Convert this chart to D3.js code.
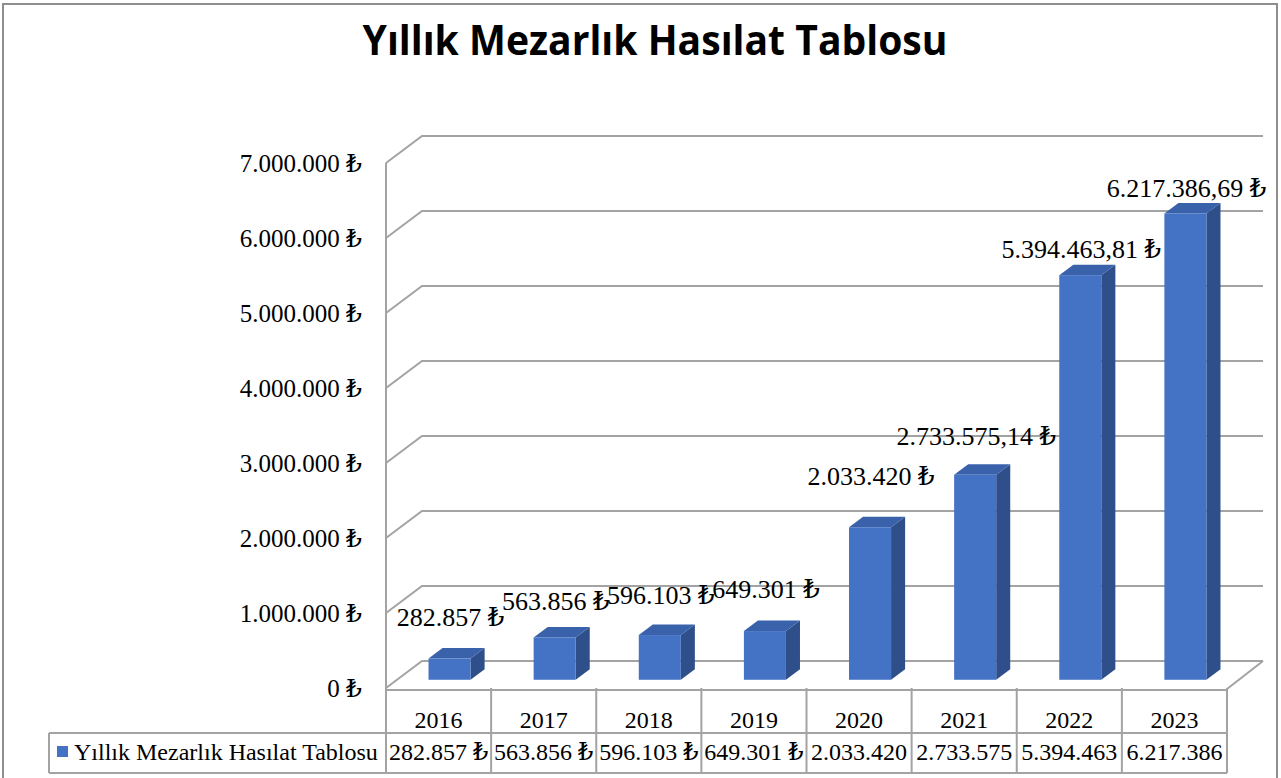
<!DOCTYPE html>
<html>
<head>
<meta charset="utf-8">
<script src="https://cdn.jsdelivr.net/npm/d3@7"></script>
<style>
  html, body { margin: 0; padding: 0; background: #fff; }
  svg { display: block; }
</style>
</head>
<body>
<svg id="chart" width="1281" height="778"></svg>
<script>
// Yearly cemetery revenue (TL)
const years = ["2016", "2017", "2018", "2019", "2020", "2021", "2022", "2023"];
const revenue = [282857, 563856, 596103, 649301, 2033420, 2733575.14, 5394463.81, 6217386.69];
const yTicks = [0, 1000000, 2000000, 3000000, 4000000, 5000000, 6000000, 7000000];
const seriesName = "Yıllık Mezarlık Hasılat Tablosu";
const titleText = "Yıllık Mezarlık Hasılat Tablosu";

const tr = d3.formatLocale({ decimal: ",", thousands: ".", grouping: [3], currency: ["", " ₺"] });
const fmtInt = tr.format(",.0f");
const fmtDec = tr.format(",.2f");
const money = v => (Number.isInteger(v) ? fmtInt(v) : fmtDec(v)) + " ₺";

const svg = d3.select("#chart");
const W = 1281, H = 778;
const serif = "'Liberation Serif', 'Times New Roman', 'DejaVu Serif', serif";
const gridColor = "#a3a3a3";
const blue = "#4472c4", blueTop = "#3a62ab", blueSide = "#2e4f8a";

// plot frame (front plane) and depth of the 3D box
const plot = { left: 386, right: 1227, top: 163, bottom: 688 };
const depth = { dx: 36, dy: 27 };

const x = d3.scaleBand().domain(years).range([plot.left, plot.right]).padding(0);
const y = d3.scaleLinear().domain([0, 7000000]).range([plot.bottom, plot.top]);
const proj = (px, py, d) => [px + d * depth.dx, py - d * depth.dy];

// outer chart border
svg.append("rect")
  .attr("x", 3).attr("y", 4).attr("width", W - 7).attr("height", H + 4)
  .attr("fill", "none").attr("stroke", "#8e8e8e").attr("stroke-width", 2);

// title
svg.append("text")
  .attr("x", 655).attr("y", 55)
  .attr("text-anchor", "middle")
  .attr("font-family", "'Liberation Sans Narrow', 'Open Sans', 'Noto Sans', sans-serif")
  .attr("font-weight", "bold")
  .attr("font-size", 42)
  .attr("textLength", 585)
  .attr("lengthAdjust", "spacingAndGlyphs")
  .attr("fill", "#000")
  .text(titleText);

// gridlines: left wall diagonal + back wall horizontal
const grid = svg.append("g").attr("fill", "none").attr("stroke", gridColor).attr("stroke-width", 2);
yTicks.forEach(t => {
  const yf = y(t);
  const [bx, by] = proj(plot.left, yf, 1);
  const [ex] = proj(plot.right, yf, 1);
  grid.append("path").attr("d", `M${plot.left},${yf}L${bx},${by}L${ex},${by}`);
});
// front vertical edge of the left wall
grid.append("line")
  .attr("x1", plot.left).attr("x2", plot.left)
  .attr("y1", y(7000000)).attr("y2", plot.bottom);
// floor right edge
{
  const [rx, ry] = proj(plot.right, plot.bottom, 1);
  grid.append("line").attr("x1", plot.right).attr("y1", plot.bottom + 1).attr("x2", rx).attr("y2", ry);
}

// y axis labels
svg.append("g").selectAll("text").data(yTicks).join("text")
  .attr("x", 362).attr("y", d => y(d))
  .attr("dy", "0.35em")
  .attr("text-anchor", "end")
  .attr("font-family", serif).attr("font-size", 25)
  .attr("fill", "#000")
  .text(d => fmtInt(d) + " ₺");

// 3D bars
const barFrac = 0.4;
const dFront = 0.305, dBar = 0.39;
const bars = svg.append("g");
years.forEach((yr, i) => {
  const v = revenue[i];
  const bw = x.bandwidth() * barFrac;
  const cx = x(yr) + x.bandwidth() / 2;
  const [x0, yb] = proj(cx - bw / 2, y(0), dFront);
  const [, yt] = proj(cx, y(v), dFront);
  const x1 = x0 + bw;
  const ox = dBar * depth.dx, oy = dBar * depth.dy;
  bars.append("path").attr("fill", blueSide)
    .attr("d", `M${x1},${yt}L${x1 + ox},${yt - oy}L${x1 + ox},${yb - oy}L${x1},${yb}Z`);
  bars.append("path").attr("fill", blueTop)
    .attr("d", `M${x0},${yt}L${x0 + ox},${yt - oy}L${x1 + ox},${yt - oy}L${x1},${yt}Z`);
  bars.append("rect").attr("fill", blue)
    .attr("x", x0).attr("y", yt).attr("width", bw).attr("height", yb - yt);
});

// value labels above the bars (individually lifted where they were dragged)
const labelLift = [33, 27, 31, 33, 42, 30, 17, 16];
svg.append("g").selectAll("text").data(years).join("text")
  .attr("x", (d, i) => proj(x(d) + x.bandwidth() / 2, 0, dFront)[0] + 1)
  .attr("y", (d, i) => proj(0, y(revenue[i]), dFront)[1] - labelLift[i])
  .attr("text-anchor", "middle")
  .attr("font-family", serif).attr("font-size", 26)
  .attr("fill", "#000")
  .text((d, i) => money(revenue[i]));

// data table under the plot
const rowTop = 690, rowMid = 733, rowBot = 773, legendLeft = 49;
const tbl = svg.append("g").attr("fill", "none").attr("stroke", gridColor).attr("stroke-width", 2);
tbl.append("line").attr("x1", plot.left).attr("x2", plot.right).attr("y1", rowTop).attr("y2", rowTop);
tbl.append("line").attr("x1", legendLeft).attr("x2", plot.right).attr("y1", rowMid).attr("y2", rowMid);
tbl.append("line").attr("x1", legendLeft).attr("x2", plot.right).attr("y1", rowBot).attr("y2", rowBot);
tbl.append("line").attr("x1", legendLeft).attr("x2", legendLeft).attr("y1", rowMid).attr("y2", rowBot);
[...years.map(d => x(d)), plot.right].forEach(px => {
  tbl.append("line").attr("x1", px).attr("x2", px).attr("y1", plot.bottom).attr("y2", rowBot);
});

// category row
svg.append("g").selectAll("text").data(years).join("text")
  .attr("x", d => x(d) + x.bandwidth() / 2).attr("y", 728)
  .attr("text-anchor", "middle")
  .attr("font-family", serif).attr("font-size", 24)
  .attr("fill", "#000")
  .text(d => d);

// value row: the currency sign is dropped when the cell is too narrow
const cellText = svg.append("g").selectAll("text").data(years).join("text")
  .attr("x", d => x(d) + x.bandwidth() / 2).attr("y", 760)
  .attr("text-anchor", "middle")
  .attr("font-family", serif).attr("font-size", 24)
  .attr("fill", "#000")
  .text((d, i) => fmtInt(Math.floor(revenue[i])) + " ₺");
cellText.each(function (d, i) {
  if (this.getComputedTextLength() > x.bandwidth() - 4) {
    d3.select(this).text(fmtInt(Math.floor(revenue[i])));
  }
});

// legend key in the table
svg.append("rect").attr("x", 57).attr("y", 746).attr("width", 11).attr("height", 11).attr("fill", blue);
svg.append("text")
  .attr("x", 74).attr("y", 760)
  .attr("font-family", serif).attr("font-size", 24)
  .attr("fill", "#000")
  .text(seriesName);
</script>
</body>
</html>
